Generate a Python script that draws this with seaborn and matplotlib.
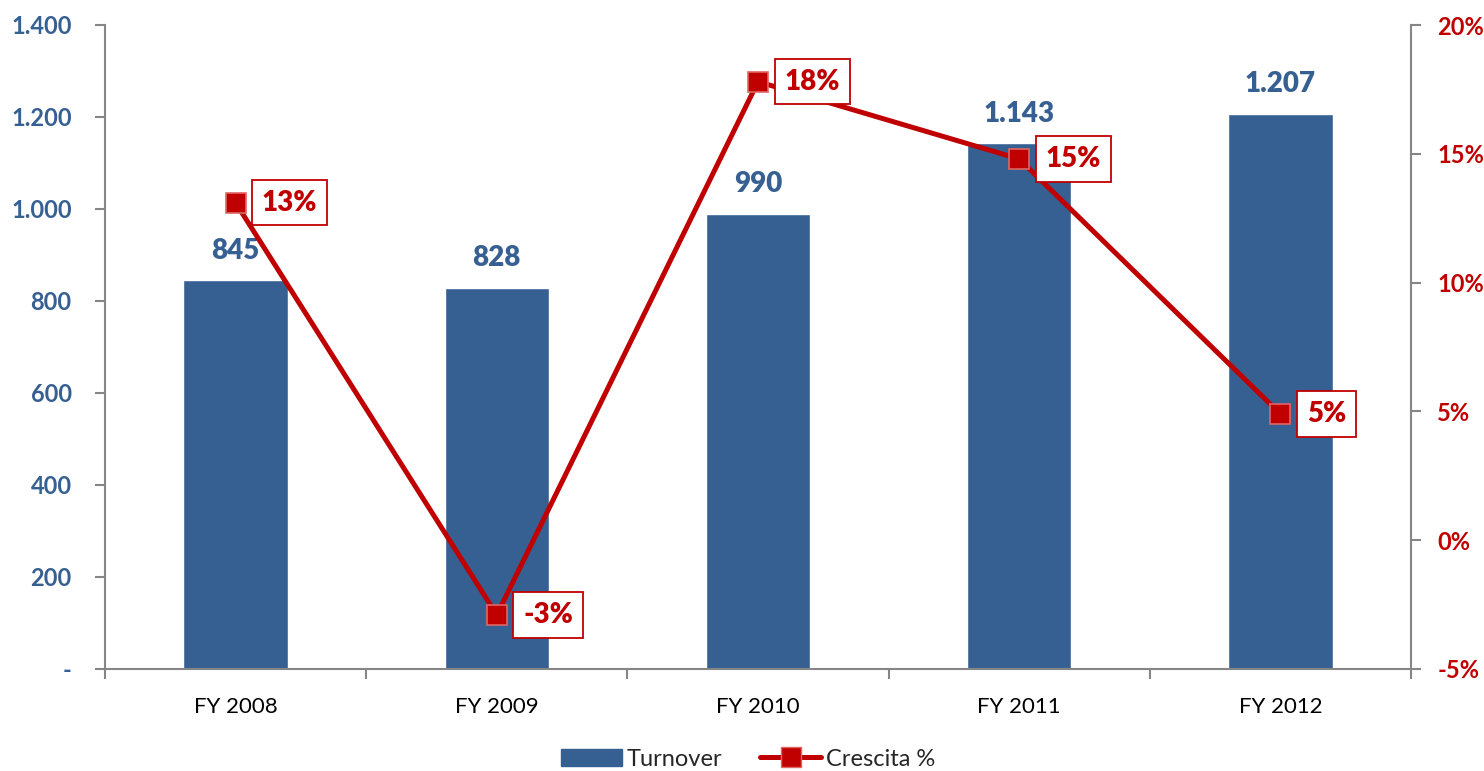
import numpy as np
import pandas as pd
import matplotlib
matplotlib.use("Agg")
import matplotlib.pyplot as plt
import seaborn as sns
from matplotlib.patches import Patch
from matplotlib.lines import Line2D
from matplotlib.ticker import FuncFormatter

# dati
years = ["FY 2008", "FY 2009", "FY 2010", "FY 2011", "FY 2012"]
turnover = [845, 828, 990, 1143, 1207]
growth = [0.131, -0.029, 0.178, 0.148, 0.049]
growth_labels = ["13%", "-3%", "18%", "15%", "5%"]

blue = "#376092"
red = "#C00000"
grey = "#868686"

sns.set_theme(style="white")
plt.rcParams["font.family"] = ["Lato", "DejaVu Sans"]

df = pd.DataFrame({"anno": years, "turnover": turnover, "crescita": growth})

fig = plt.figure(figsize=(14.84, 7.71), dpi=100)
ax = fig.add_axes([105 / 1484, 1 - 669 / 771, 1306 / 1484, 644 / 771])

sns.barplot(data=df, x="anno", y="turnover", color=blue, saturation=1,
            width=0.4, ax=ax)
ax.set_ylim(0, 1400)
ax.set_xlim(-0.5, len(years) - 0.5)
ax.set_yticks(np.arange(0, 1401, 200))
ax.yaxis.set_major_formatter(FuncFormatter(
    lambda v, p: "-" if v == 0 else f"{int(v):,}".replace(",", ".")))
ax.set_xlabel("")
ax.set_ylabel("")

# tick x sui bordi delle categorie, etichette al centro
ax.set_xticks(np.arange(-0.5, len(years), 1))
ax.set_xticklabels([""] * (len(years) + 1))
ax.set_xticks(np.arange(len(years)), minor=True)
ax.set_xticklabels(years, minor=True, fontsize=16, color="black")
ax.tick_params(axis="x", which="major", direction="out", length=7, width=1.5,
               color=grey, bottom=True)
ax.tick_params(axis="x", which="minor", length=0, pad=20)
ax.tick_params(axis="y", direction="out", length=7, width=1.5, color=grey,
               left=True, labelsize=17, labelcolor=blue, pad=17)
for lab in ax.get_yticklabels():
    lab.set_fontweight("bold")

for s in ["top", "right"]:
    ax.spines[s].set_visible(False)
for s in ["left", "bottom"]:
    ax.spines[s].set_color(grey)
    ax.spines[s].set_linewidth(1.5)

for i, v in enumerate(turnover):
    ax.annotate(f"{v:,}".replace(",", "."), (i, v), xytext=(0, 12),
                textcoords="offset points", ha="center", va="bottom",
                fontsize=20, fontweight="heavy", color=blue)

# asse destro: crescita
ax2 = ax.twinx()
sns.pointplot(data=df, x="anno", y="crescita", color=red, ax=ax2,
              markers="s", markersize=14, linewidth=3.6,
              markeredgecolor="#E06666", markeredgewidth=1.2)
ax2.set_ylim(-0.05, 0.20)
ax2.set_xlim(-0.5, len(years) - 0.5)
ax2.set_yticks(np.arange(-0.05, 0.201, 0.05))
ax2.yaxis.set_major_formatter(FuncFormatter(lambda v, p: f"{v:.0%}"))
ax2.set_ylabel("")
ax2.set_xlabel("")
ax2.tick_params(axis="y", direction="out", length=7, width=1.5, color=grey,
                right=True, labelsize=17, labelcolor=red, pad=12)
for lab in ax2.get_yticklabels():
    lab.set_fontweight("bold")
for s in ["top", "left", "bottom"]:
    ax2.spines[s].set_visible(False)
ax2.spines["right"].set_color(grey)
ax2.spines["right"].set_linewidth(1.5)

for i, (v, t) in enumerate(zip(growth, growth_labels)):
    ax2.annotate(t, (i, v), xytext=(19, 0), textcoords="offset points",
                 ha="left", va="center", fontsize=20, fontweight="heavy",
                 color=red,
                 bbox=dict(boxstyle="square,pad=0.35", fc="white", ec=red,
                           lw=1.3))

handles = [Patch(facecolor=blue, edgecolor=blue, label="Turnover"),
           Line2D([0], [0], color=red, lw=3.6, marker="s", markersize=14,
                  markerfacecolor=red, markeredgecolor="#E06666",
                  label="Crescita %")]
fig.legend(handles=handles, loc="center", bbox_to_anchor=(748 / 1484, 1 - 759 / 771),
           ncol=2, frameon=False, fontsize=17, handlelength=2.6,
           handletextpad=0.2, columnspacing=1.6)

fig.savefig("out.png", dpi=100)
